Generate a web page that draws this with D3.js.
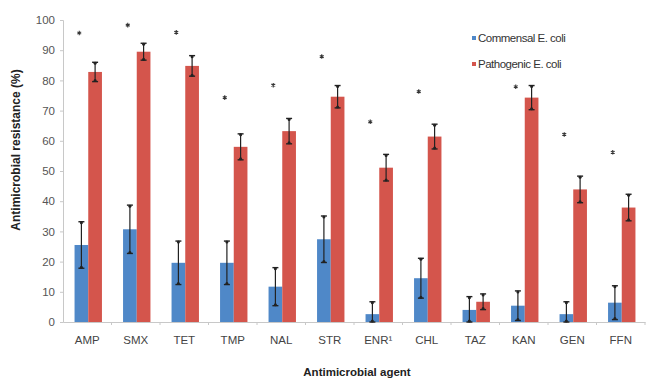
<!DOCTYPE html>
<html><head><meta charset="utf-8">
<script src="https://cdn.jsdelivr.net/npm/d3@7"></script>
<style>body{margin:0;background:#fff}svg{display:block}</style>
</head><body><svg id="c" width="648" height="378"></svg>
<script>
const categories = ["AMP","SMX","TET","TMP","NAL","STR","ENR\u00b9","CHL","TAZ","KAN","GEN","FFN"];
const commensal = [25.5,30.7,19.6,19.6,11.7,27.4,2.6,14.5,4.0,5.4,2.6,6.4];
const commensalErr = [7.7,8.0,7.2,7.2,6.3,7.7,4.1,6.6,4.4,4.9,4.1,5.6];
const pathogenic = [82.8,89.5,84.8,58.0,63.2,74.6,51.1,61.4,6.7,74.3,43.9,37.9];
const pathogenicErr = [3.2,2.8,3.4,4.3,4.2,3.7,4.4,4.1,2.6,4.0,4.4,4.4];
const significance = [95.7,98.3,95.9,74.3,78.4,87.9,66.3,76.3,null,77.9,62.1,56.2];
const yTicks = [0,10,20,30,40,50,60,70,80,90,100];
const seriesNames = ["Commensal E. coli","Pathogenic E. coli"];
const colors = ["#4f88c8","#d4554c"];

const svg = d3.select("#c");
const m = {l:63, r:3, t:20, b:56};
const W = 648, H = 378;
const x = d3.scaleBand().domain(categories).range([m.l, W - m.r]).paddingInner(0).paddingOuter(0);
const y = d3.scaleLinear().domain([0,100]).range([322, 20]);
const bw = 13.7;
const font = "'Liberation Sans', Arial, sans-serif";

// axes
const yAxis = svg.append("g").attr("transform", `translate(${m.l},0)`)
  .call(d3.axisLeft(y).tickValues(yTicks).tickSize(3).tickPadding(5));
yAxis.select(".domain").attr("stroke","#c8c8c8");
yAxis.selectAll(".tick line").attr("stroke","#c8c8c8");
yAxis.selectAll("text").attr("font-family",font).attr("font-size",11.5).attr("fill","#555");

const xAxis = svg.append("g").attr("transform", `translate(0,322)`)
  .call(d3.axisBottom(x).tickSize(0).tickPadding(14));
xAxis.select(".domain").attr("stroke","#c8c8c8");
xAxis.selectAll("text").attr("font-family",font).attr("font-size",11.5).attr("fill","#444");
// boundary tick marks
svg.append("g").selectAll("line").data(categories).join("line")
  .attr("x1", d => x(d) + x.bandwidth()).attr("x2", d => x(d) + x.bandwidth())
  .attr("y1", 322).attr("y2", 325).attr("stroke","#c8c8c8");

const series = [commensal, pathogenic];
const errs = [commensalErr, pathogenicErr];
series.forEach((vals, s) => {
  const g = svg.append("g");
  const bx = (i) => x(categories[i]) + x.bandwidth()/2 + 1 - bw + s*bw;
  g.selectAll("rect").data(vals).join("rect")
    .attr("x", (d,i) => bx(i)).attr("width", bw)
    .attr("y", d => y(d)).attr("height", d => y(0) - y(d))
    .attr("fill", colors[s]);
  const eg = svg.append("g");
  vals.forEach((v,i) => {
    const cx = bx(i) + bw/2;
    const e = errs[s][i];
    const lo = Math.max(0, v - e), hi = v + e;
    eg.append("line").attr("x1",cx).attr("x2",cx).attr("y1",y(lo)).attr("y2",y(hi)).attr("stroke","#222").attr("stroke-width",1.2);
    eg.append("line").attr("x1",cx-3).attr("x2",cx+3).attr("y1",y(hi)).attr("y2",y(hi)).attr("stroke","#222").attr("stroke-width",1.4);
    eg.append("line").attr("x1",cx-3).attr("x2",cx+3).attr("y1",y(lo)).attr("y2",y(lo)).attr("stroke","#222").attr("stroke-width",1.4);
    eg.append("circle").attr("cx",cx).attr("cy",y(hi)+1).attr("r",1.5).attr("fill","#222");
    eg.append("circle").attr("cx",cx).attr("cy",y(lo)-1).attr("r",1.5).attr("fill","#222");
  });
});

// significance markers
const star = d3.symbol().type(d3.symbolAsterisk).size(14);
svg.append("g").selectAll("path").data(significance.map((v,i)=>({v,i})).filter(d=>d.v!=null)).join("path")
  .attr("transform", d => `translate(${x(categories[d.i]) + x.bandwidth()/2 - 8},${y(d.v)})`)
  .attr("d", star).attr("stroke","#333").attr("stroke-width",1.1).attr("fill","none");

// legend
const lg = svg.append("g");
seriesNames.forEach((n,i) => {
  lg.append("rect").attr("x",472).attr("y",36 + i*26).attr("width",4).attr("height",4).attr("fill",colors[i]);
  lg.append("text").attr("x",478).attr("y",42 + i*26).attr("font-family",font).attr("font-size",11.5)
    .attr("fill","#333").attr("letter-spacing","-0.5").text(n);
});

// axis titles
svg.append("text").attr("transform","translate(20,150) rotate(-90)").attr("text-anchor","middle")
  .attr("font-family",font).attr("font-size",12).attr("font-weight","bold").attr("fill","#222")
  .text("Antimicrobial resistance (%)");
svg.append("text").attr("x",357).attr("y",376).attr("text-anchor","middle")
  .attr("font-family",font).attr("font-size",11.5).attr("font-weight","bold").attr("fill","#222")
  .text("Antimicrobial agent");
</script></body></html>
